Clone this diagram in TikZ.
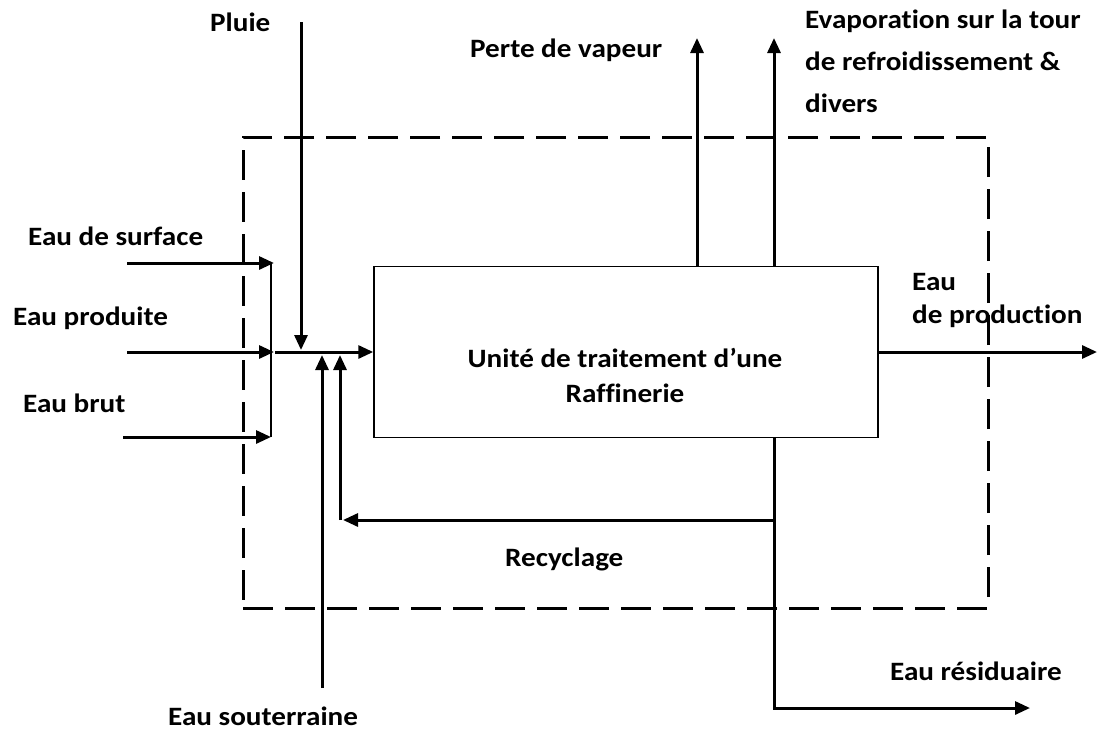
\documentclass[tikz,border=0pt]{standalone}
\usepackage{fontspec}
\setmainfont{Carlito}[FakeStretch=1.1,Ligatures=NoCommon]
\usetikzlibrary{arrows.meta}
\begin{document}
\begin{tikzpicture}[x=1pt,y=-1pt,
  flow/.style={line width=3pt,-{Triangle[length=15pt,width=13pt]}},
  thinline/.style={line width=1.5pt},
  lbl/.style={font=\fontsize{26.5}{35}\selectfont\bfseries,inner sep=0pt},
  boundary/.style={draw,line width=3pt,dash pattern=on 30pt off 12pt,minimum width=745pt,minimum height=471pt,inner sep=0pt},
  unitbox/.style={draw,line width=1.5pt,minimum width=504pt,minimum height=171pt,inner sep=0pt}]
\useasboundingbox (0,0) rectangle (1097,731);
% system boundary and unit
\node[boundary] (sys) at (615.5,372.5) {};
\node[unitbox] (unit) at (626,352) {};
\node[lbl,align=center,anchor=base] (unitlbl) at (625,402) {Unité de traitement d’une\\Raffinerie};
% labels
\node[lbl,anchor=base west] (lpluie) at (210,31) {Pluie};
\node[lbl,anchor=base west] (lvap) at (470,57) {Perte de vapeur};
\node[lbl,anchor=base west,align=left,font=\fontsize{26.5}{42}\selectfont\bfseries] (levap) at (805,112) {Evaporation sur la tour\\de refroidissement \&\\divers};
\node[lbl,anchor=base west] (lsurf) at (28,245) {Eau de surface};
\node[lbl,anchor=base west] (lprod) at (13,325) {Eau produite};
\node[lbl,anchor=base west] (lbrut) at (23,412) {Eau brut};
\node[lbl,anchor=base west,align=left,font=\fontsize{26.5}{33}\selectfont\bfseries] (lprodout) at (912,323) {Eau\\de production};
\node[lbl,anchor=base west] (lrec) at (505,566) {Recyclage};
\node[lbl,anchor=base west] (lres) at (890,680) {Eau résiduaire};
\node[lbl,anchor=base west] (lsout) at (168,725) {Eau souterraine};
% coordinates
\coordinate (sIn) at (127,263);  \coordinate (sOut) at (274,263);
\coordinate (pIn) at (127,352);  \coordinate (pOut) at (274,352);
\coordinate (bIn) at (123,437);  \coordinate (bOut) at (271,437);
\coordinate (colTop) at (271,263); \coordinate (colBot) at (271,437);
\coordinate (mix) at (275,352);
\coordinate (rainTop) at (301,22); \coordinate (rainIn) at (301,350);
\coordinate (gwBot) at (322,688); \coordinate (gwIn) at (322,355);
\coordinate (recSplit) at (774,520); \coordinate (recEnd) at (343,520);
\coordinate (recTurn) at (340,520); \coordinate (recIn) at (340,355);
\coordinate (vapTop) at (697,38); \coordinate (evapTop) at (774,38);
\coordinate (prodEnd) at (1097,352);
\coordinate (resCorner) at (774,708); \coordinate (resEnd) at (1030,708);
% connectors
\draw[flow] (sIn) -- (sOut);
\draw[flow] (pIn) -- (pOut);
\draw[flow] (bIn) -- (bOut);
\draw[thinline] (colTop) -- (colBot);
\draw[flow] (mix) -- (unit.west);
\draw[flow] (rainTop) -- (rainIn);
\draw[flow] (gwBot) -- (gwIn);
\draw[flow] (recSplit) -- (recEnd);
\draw[flow] (recTurn) -- (recIn);
\draw[flow] (unit.north -| vapTop) -- (vapTop);
\draw[flow] (unit.north -| evapTop) -- (evapTop);
\draw[flow] (unit.east) -- (prodEnd);
\draw[flow] (unit.south -| resCorner) -- (resCorner) -- (resEnd);
\end{tikzpicture}
\end{document}
